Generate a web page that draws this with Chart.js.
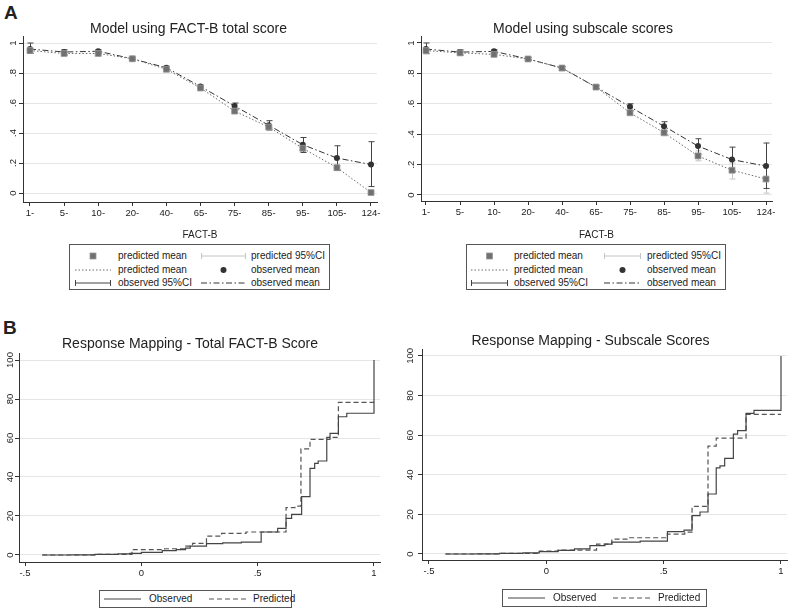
<!DOCTYPE html>
<html>
<head>
<meta charset="utf-8">
<script src="https://cdn.jsdelivr.net/npm/chart.js@4.4.1/dist/chart.umd.min.js"></script>
<style>
  body { margin: 0; background: #fff; width: 788px; height: 609px; position: relative; overflow: hidden;
         font-family: "Liberation Sans", Arial, sans-serif; color: #222; }
  canvas { position: absolute; }
  .letter { position: absolute; font-weight: bold; font-size: 19px; line-height: 19px; }
  .legend { position: absolute; border: 1px solid #555; box-sizing: border-box; font-size: 10px; }
  .legend .txt { position: absolute; white-space: nowrap; line-height: 12px; }
  .legend svg { position: absolute; overflow: visible; }
</style>
</head>
<body>
<div class="letter" style="left:4px;top:3px">A</div>
<div class="letter" style="left:3px;top:318px">B</div>
<canvas id="totalChart" width="394" height="241" style="left:0;top:0"></canvas>
<canvas id="subChart" width="394" height="241" style="left:394px;top:0"></canvas>
<canvas id="totalMapChart" width="394" height="280" style="left:0;top:310px"></canvas>
<canvas id="subMapChart" width="394" height="280" style="left:394px;top:310px"></canvas>
<div id="legTotal" class="legend" style="left:69px;top:244px;width:261px;height:46px"></div>
<div id="legSub" class="legend" style="left:466px;top:244px;width:260px;height:46px"></div>
<div id="legTotalMap" class="legend" style="left:99px;top:590px;width:193px;height:18px"></div>
<div id="legSubMap" class="legend" style="left:502px;top:589px;width:205px;height:18px"></div>
<script>
// Panel A: FACT-B groups
const categories = ['1-', '5-', '10-', '20-', '40-', '65-', '75-', '85-', '95-', '105-', '124-'];
const probTicks = [0, 0.2, 0.4, 0.6, 0.8, 1];
const probLabels = ['0', '.2', '.4', '.6', '.8', '1'];

const obsMean = [0.96, 0.94, 0.945, 0.895, 0.835, 0.71, 0.58, 0.452, 0.322, 0.233, 0.19];
const obsLo   = [0.93, 0.92, 0.93, 0.885, 0.825, 0.70, 0.555, 0.42, 0.27, 0.15, 0.043];
const obsHi   = [1.0, 0.955, 0.955, 0.905, 0.845, 0.72, 0.60, 0.482, 0.37, 0.315, 0.342];

const totalPredMean = [0.95, 0.93, 0.93, 0.895, 0.825, 0.70, 0.546, 0.44, 0.298, 0.169, 0.003];
const totalPredLo   = [0.94, 0.92, 0.92, 0.89, 0.82, 0.695, 0.535, 0.43, 0.28, 0.155, 0.0];
const totalPredHi   = [0.96, 0.94, 0.94, 0.90, 0.83, 0.705, 0.555, 0.45, 0.31, 0.18, 0.01];

const subPredMean = [0.95, 0.935, 0.925, 0.895, 0.835, 0.71, 0.541, 0.41, 0.257, 0.163, 0.105];
const subPredLo   = [0.93, 0.925, 0.915, 0.89, 0.83, 0.705, 0.525, 0.39, 0.225, 0.105, 0.012];
const subPredHi   = [0.965, 0.945, 0.935, 0.90, 0.84, 0.715, 0.55, 0.42, 0.29, 0.21, 0.19];

// Panel B: response mapping step curves
const mapXTicks = [-0.5, 0, 0.5, 1];
const mapXLabels = ['-.5', '0', '.5', '1'];
const pctTicks = [0, 20, 40, 60, 80, 100];
const pctLabels = ['0', '20', '40', '60', '80', '100'];

const totalObsX = [-0.426, -0.3, -0.2, -0.1, -0.05, 0.0, 0.09, 0.15, 0.19, 0.21, 0.28, 0.35, 0.43, 0.515, 0.586, 0.622, 0.646, 0.689, 0.725, 0.745, 0.76, 0.797, 0.811, 0.847, 0.883, 1.0];
const totalObsY = [0, 0.1, 0.3, 0.6, 0.8, 1.3, 2.2, 2.8, 3.5, 4.6, 5.8, 6.2, 6.6, 11.8, 13.7, 18.8, 20.8, 29.9, 44.4, 47, 48.2, 60.3, 62.4, 70.9, 72.7, 100];
const totalPredX = [-0.426, -0.2, -0.04, 0.1, 0.19, 0.22, 0.28, 0.345, 0.45, 0.622, 0.66, 0.686, 0.725, 0.811, 0.847, 1.0];
const totalPredY = [0, 0.3, 2.8, 3.2, 4.5, 6.0, 9.7, 11.1, 11.8, 24.3, 25.1, 54.4, 59.3, 60.3, 78.3, 78.3];

const subObsX = [-0.43, -0.3, -0.2, -0.1, -0.03, 0.05, 0.12, 0.186, 0.25, 0.279, 0.4, 0.516, 0.587, 0.621, 0.655, 0.689, 0.724, 0.74, 0.76, 0.797, 0.815, 0.851, 0.885, 1.0];
const subObsY = [0, 0.1, 0.3, 0.6, 1.2, 1.8, 2.6, 4.2, 5.0, 6.0, 6.5, 11.3, 12.1, 19.4, 21.2, 30.3, 43.5, 44.5, 48.3, 60.5, 62.3, 71, 72.5, 100];
const subPredX = [-0.43, -0.2, -0.03, 0.05, 0.214, 0.279, 0.35, 0.516, 0.59, 0.621, 0.689, 0.724, 0.851, 1.0];
const subPredY = [0, 0.3, 1.5, 2.0, 5.0, 7.5, 8.2, 10.0, 11.0, 24.0, 54.5, 58.5, 70.5, 70.5];

const FONT = '"Liberation Sans", Arial, sans-serif';
const INK = '#222';
const AXIS = '#333';

const toPoints = (xs, ys) => xs.map((x, i) => ({ x: x, y: ys[i] }));
const byIndex = ys => ys.map((y, i) => ({ x: i, y: y }));

// y tick labels are rotated like Stata does
function rotatedYLabels(labels, offset) {
    return {
        id: 'rotatedYLabels',
        afterDraw(chart) {
            const y = chart.scales.y;
            const ctx = chart.ctx;
            ctx.save();
            ctx.font = '9.5px ' + FONT;
            ctx.fillStyle = INK;
            ctx.textAlign = 'center';
            ctx.textBaseline = 'middle';
            y.ticks.forEach((t, i) => {
                ctx.save();
                ctx.translate(chart.chartArea.left - offset, y.getPixelForValue(t.value));
                ctx.rotate(-Math.PI / 2);
                ctx.fillText(labels[i], 0, 0);
                ctx.restore();
            });
            ctx.restore();
        }
    };
}

// 95% CI whiskers, drawn through the chart's own scales
function errorBars(sets) {
    return {
        id: 'errorBars',
        beforeDatasetsDraw(chart) {
            const { ctx, scales: { x, y } } = chart;
            sets.forEach(s => {
                ctx.save();
                ctx.strokeStyle = s.color;
                ctx.lineWidth = 1;
                s.lo.forEach((lo, i) => {
                    const px = Math.round(x.getPixelForValue(i)) + 0.5;
                    const p1 = y.getPixelForValue(lo);
                    const p2 = y.getPixelForValue(s.hi[i]);
                    ctx.beginPath();
                    ctx.moveTo(px, p1); ctx.lineTo(px, p2);
                    ctx.moveTo(px - 3, p1); ctx.lineTo(px + 3, p1);
                    ctx.moveTo(px - 3, p2); ctx.lineTo(px + 3, p2);
                    ctx.stroke();
                });
                ctx.restore();
            });
        }
    };
}

function titleOpts(text, padTop, padBottom) {
    return {
        display: true,
        text: text,
        color: INK,
        font: { family: FONT, size: 14, weight: 'normal', lineHeight: 1.0 },
        padding: { top: padTop, bottom: padBottom }
    };
}

function xAxis(min, max, tickValues, labels, height, titleText) {
    return {
        type: 'linear',
        bounds: 'data',
        min: min,
        max: max,
        afterBuildTicks: s => { s.ticks = tickValues.map(v => ({ value: v })); },
        afterFit: s => { s.height = height; },
        ticks: {
            callback: (v, i) => labels[i],
            autoSkip: false,
            maxRotation: 0,
            padding: 2,
            color: INK,
            font: { family: FONT, size: 9.5 }
        },
        grid: { drawOnChartArea: false, tickLength: 4, tickColor: AXIS },
        border: { color: AXIS, width: 1 },
        title: {
            display: !!titleText,
            text: titleText || '',
            color: INK,
            font: { family: FONT, size: 10, lineHeight: 1.2 },
            padding: { top: 0, bottom: 0 }
        }
    };
}

function yAxis(min, max, tickValues, width) {
    return {
        type: 'linear',
        bounds: 'data',
        min: min,
        max: max,
        afterBuildTicks: s => { s.ticks = tickValues.map(v => ({ value: v })); },
        afterFit: s => { s.width = width; },
        ticks: { display: false },
        grid: { color: '#e6e6e6', lineWidth: 1, tickLength: 4, tickColor: AXIS },
        border: { color: AXIS, width: 1 }
    };
}

function groupChart(id, title, predMean, predLo, predHi, opts) {
    new Chart(document.getElementById(id), {
        type: 'line',
        data: {
            datasets: [
                {
                    label: 'predicted mean',
                    data: byIndex(predMean),
                    borderColor: '#6a6a6a',
                    borderWidth: 1,
                    borderDash: [1.5, 2],
                    pointStyle: 'rect',
                    pointRadius: 4.2,
                    pointBackgroundColor: '#707070',
                    pointBorderColor: '#9a9a9a',
                    pointBorderWidth: 0.8,
                    tension: 0
                },
                {
                    label: 'observed mean',
                    data: byIndex(obsMean),
                    borderColor: '#333',
                    borderWidth: 1,
                    borderDash: [6, 2.5, 1.5, 2.5],
                    pointStyle: 'circle',
                    pointRadius: 3,
                    pointBackgroundColor: '#333',
                    pointBorderColor: '#333',
                    pointBorderWidth: 0,
                    tension: 0
                }
            ]
        },
        options: {
            responsive: false,
            animation: false,
            devicePixelRatio: 1,
            layout: { padding: { left: 0, right: opts.padRight, top: 0, bottom: 0 } },
            plugins: {
                legend: { display: false },
                tooltip: { enabled: false },
                title: titleOpts(title, 22, 0)
            },
            scales: {
                x: xAxis(opts.xMin, opts.xMax, categories.map((c, i) => i), categories, opts.xHeight, 'FACT-B'),
                y: yAxis(opts.yMin, opts.yMax, probTicks, opts.yWidth)
            }
        },
        plugins: [
            errorBars([
                { lo: predLo, hi: predHi, color: '#c4c4c4' },
                { lo: obsLo, hi: obsHi, color: '#444' }
            ]),
            rotatedYLabels(probLabels, 10)
        ]
    });
}

function mappingChart(id, title, obsX, obsY, predX, predY, opts) {
    new Chart(document.getElementById(id), {
        type: 'line',
        data: {
            datasets: [
                {
                    label: 'Observed',
                    data: toPoints(obsX, obsY),
                    borderColor: '#444',
                    borderWidth: 1.2,
                    stepped: true,
                    pointRadius: 0
                },
                {
                    label: 'Predicted',
                    data: toPoints(predX, predY),
                    borderColor: '#555',
                    borderWidth: 1.2,
                    borderDash: [5, 3],
                    stepped: true,
                    pointRadius: 0
                }
            ]
        },
        options: {
            responsive: false,
            animation: false,
            devicePixelRatio: 1,
            layout: { padding: { left: 0, right: opts.padRight, top: 0, bottom: 0 } },
            plugins: {
                legend: { display: false },
                tooltip: { enabled: false },
                title: titleOpts(title, opts.titleTop, opts.titleBottom)
            },
            scales: {
                x: xAxis(opts.xMin, opts.xMax, mapXTicks, mapXLabels, opts.xHeight, null),
                y: yAxis(opts.yMin, opts.yMax, pctTicks, opts.yWidth)
            }
        },
        plugins: [rotatedYLabels(pctLabels, opts.labelOffset)]
    });
}

groupChart('totalChart', 'Model using FACT-B total score', totalPredMean, totalPredLo, totalPredHi,
    { xMin: -0.205, xMax: 10.176, yMin: -0.06, yMax: 1.0467, yWidth: 23, xHeight: 39, padRight: 17 });
groupChart('subChart', 'Model using subscale scores', subPredMean, subPredLo, subPredHi,
    { xMin: -0.147, xMax: 10.176, yMin: -0.0395, yMax: 1.046, yWidth: 27, xHeight: 40, padRight: 16 });

mappingChart('totalMapChart', 'Response Mapping - Total FACT-B Score', totalObsX, totalObsY, totalPredX, totalPredY,
    { xMin: -0.5258, xMax: 1.0258, yMin: -3.59, yMax: 103.59, yWidth: 19, xHeight: 28, padRight: 14,
      titleTop: 27, titleBottom: 2, labelOffset: 9 });
mappingChart('subMapChart', 'Response Mapping - Subscale Scores', subObsX, subObsY, subPredX, subPredY,
    { xMin: -0.5298, xMax: 1.0256, yMin: -3.03, yMax: 103.5, yWidth: 28, xHeight: 30, padRight: 1,
      titleTop: 24, titleBottom: 1, labelOffset: 12 });

// Stata-style legends
function symbolSvg(kind, w) {
    const mid = 5;
    switch (kind) {
        case 'square':
            return `<rect x="${w / 2 - 3}" y="${mid - 3}" width="6" height="6" fill="#707070" stroke="#9a9a9a" stroke-width="0.8"/>`;
        case 'circle':
            return `<circle cx="${w / 2}" cy="${mid}" r="3" fill="#333"/>`;
        case 'ciLight':
        case 'ciDark': {
            const c = kind === 'ciLight' ? '#c4c4c4' : '#444';
            return `<path d="M0.5 ${mid}H${w - 0.5}M0.5 ${mid - 3}V${mid + 3}M${w - 0.5} ${mid - 3}V${mid + 3}" stroke="${c}" stroke-width="1" fill="none"/>`;
        }
        case 'dotted':
            return `<line x1="0" y1="${mid}" x2="${w}" y2="${mid}" stroke="#6a6a6a" stroke-width="1" stroke-dasharray="1.5 2"/>`;
        case 'dashdot':
            return `<line x1="0" y1="${mid}" x2="${w}" y2="${mid}" stroke="#333" stroke-width="1" stroke-dasharray="6 2.5 1.5 2.5"/>`;
        case 'solid':
            return `<line x1="0" y1="${mid}" x2="${w}" y2="${mid}" stroke="#444" stroke-width="1.2"/>`;
        case 'dashed':
            return `<line x1="0" y1="${mid}" x2="${w}" y2="${mid}" stroke="#555" stroke-width="1.2" stroke-dasharray="5 3"/>`;
    }
    return '';
}

function buildLegend(id, items) {
    const box = document.getElementById(id);
    items.forEach(it => {
        const w = it.x2 - it.x1;
        const svg = document.createElementNS('http://www.w3.org/2000/svg', 'svg');
        svg.setAttribute('width', w);
        svg.setAttribute('height', 10);
        svg.style.left = it.x1 + 'px';
        svg.style.top = (it.y - 5) + 'px';
        svg.innerHTML = symbolSvg(it.kind, w);
        box.appendChild(svg);
        const t = document.createElement('div');
        t.className = 'txt';
        t.textContent = it.text;
        t.style.left = it.tx + 'px';
        t.style.top = (it.y - 6) + 'px';
        box.appendChild(t);
    });
}

function groupLegend(id, c1, c2) {
    const rows = [11, 24.5, 38];
    buildLegend(id, [
        { kind: 'square', text: 'predicted mean', y: rows[0], x1: c1[0], x2: c1[1], tx: c1[2] },
        { kind: 'ciLight', text: 'predicted 95%CI', y: rows[0], x1: c2[0], x2: c2[1], tx: c2[2] },
        { kind: 'dotted', text: 'predicted mean', y: rows[1], x1: c1[0], x2: c1[1], tx: c1[2] },
        { kind: 'circle', text: 'observed mean', y: rows[1], x1: c2[0], x2: c2[1], tx: c2[2] },
        { kind: 'ciDark', text: 'observed 95%CI', y: rows[2], x1: c1[0], x2: c1[1], tx: c1[2] },
        { kind: 'dashdot', text: 'observed mean', y: rows[2], x1: c2[0], x2: c2[1], tx: c2[2] }
    ]);
}

function mappingLegend(id, c1, c2) {
    buildLegend(id, [
        { kind: 'solid', text: 'Observed', y: 8, x1: c1[0], x2: c1[1], tx: c1[2] },
        { kind: 'dashed', text: 'Predicted', y: 8, x1: c2[0], x2: c2[1], tx: c2[2] }
    ]);
}

groupLegend('legTotal', [5, 41, 48], [131, 176, 181]);
groupLegend('legSub', [4, 41, 47], [137, 174, 180]);
mappingLegend('legTotalMap', [4, 41, 49], [109, 148, 153]);
mappingLegend('legSubMap', [5, 42, 50], [110, 149, 155]);
</script>
</body>
</html>
